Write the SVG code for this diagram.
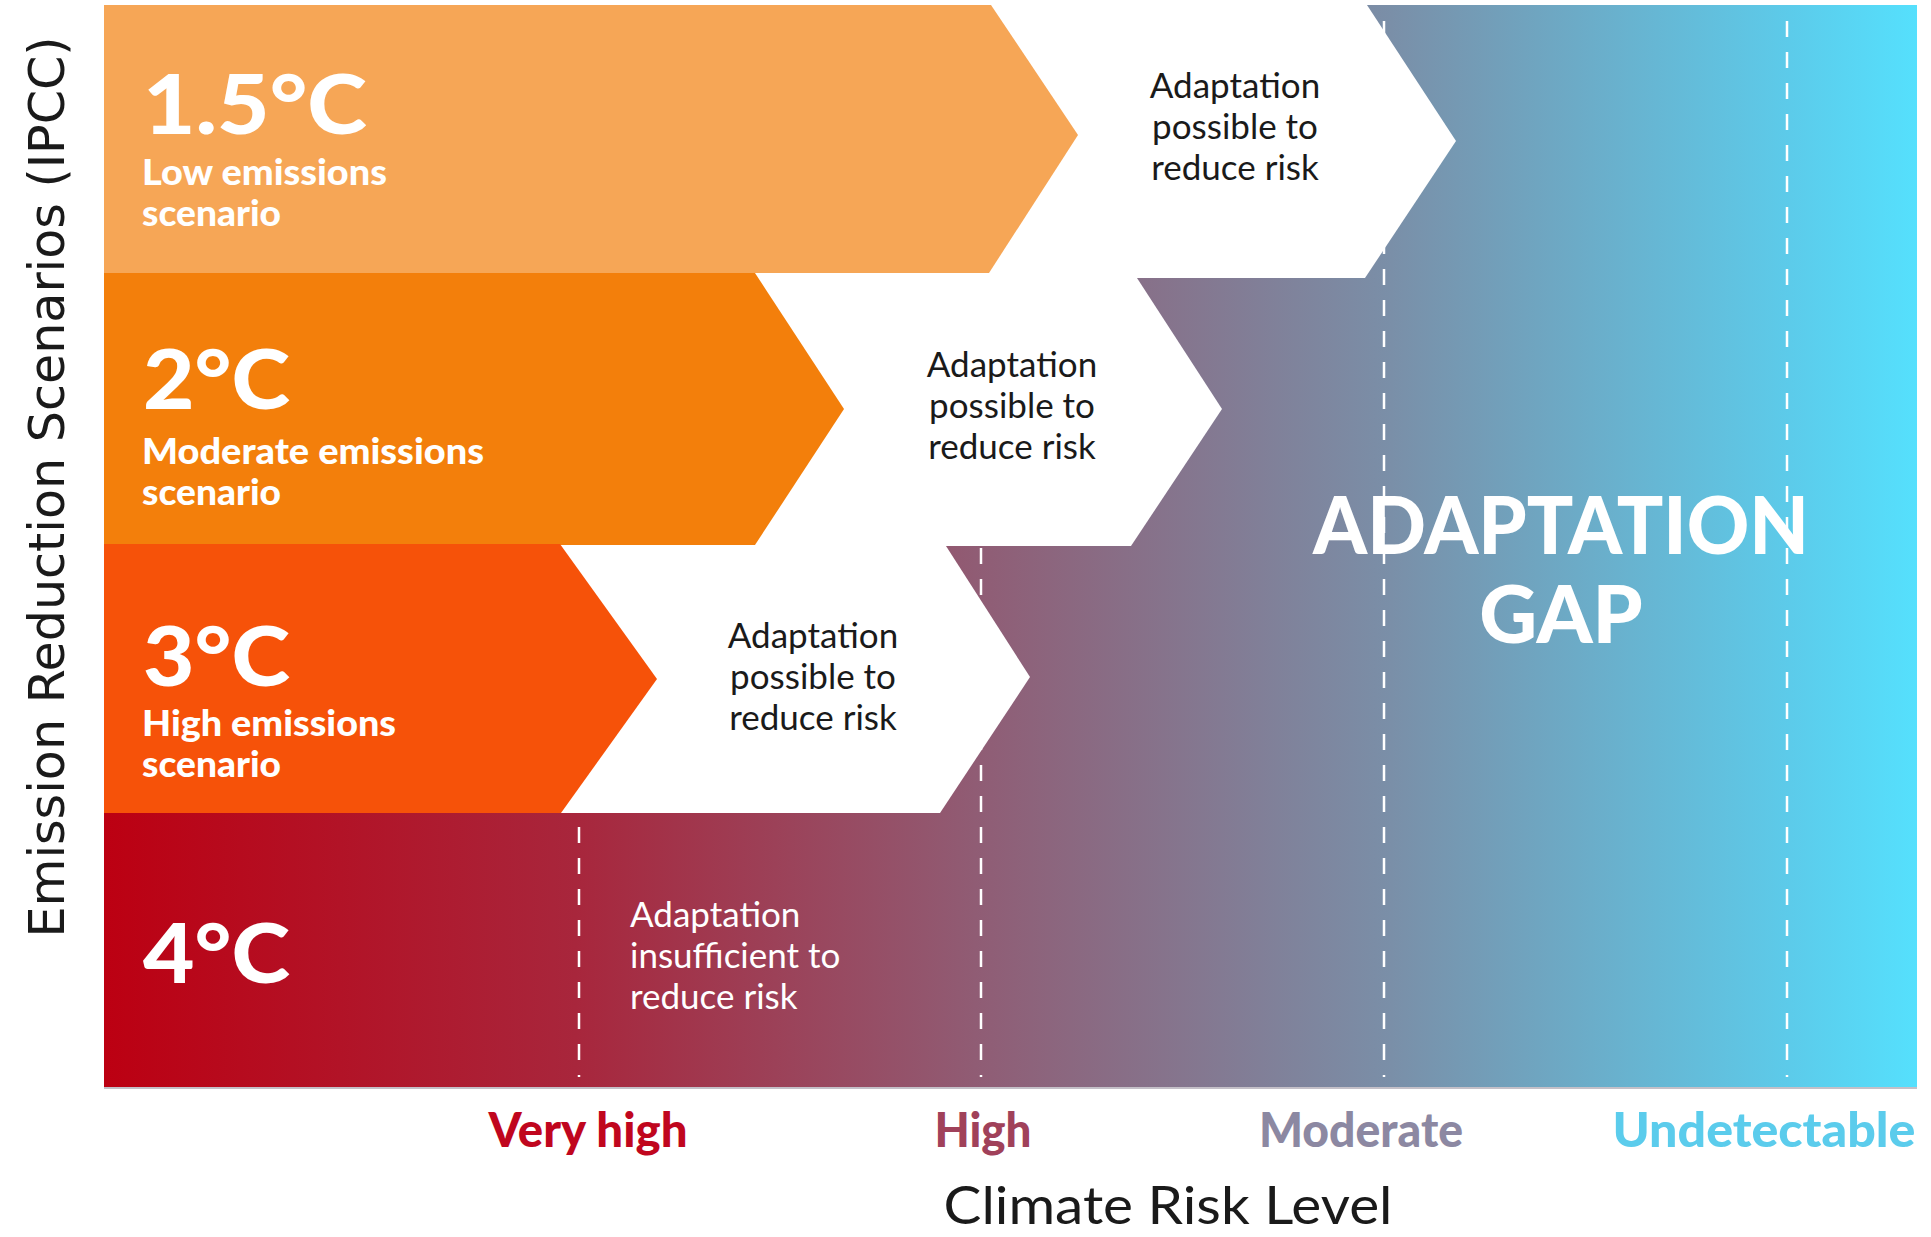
<svg xmlns="http://www.w3.org/2000/svg" width="1931" height="1237" viewBox="0 0 1931 1237">
<defs>
<linearGradient id="risk" x1="104" y1="0" x2="1917" y2="0" gradientUnits="userSpaceOnUse">
<stop offset="0" stop-color="#BC0012"/>
<stop offset="0.26" stop-color="#A8263C"/>
<stop offset="0.48" stop-color="#905C74"/>
<stop offset="0.71" stop-color="#7A8FA8"/>
<stop offset="0.93" stop-color="#5CCBEA"/>
<stop offset="1" stop-color="#55E0FD"/>
</linearGradient>
<style>
.grid{stroke:#fff;stroke-width:2.5;stroke-dasharray:16 15;fill:none}
.white{fill:#fff}
.big{font-family:Lato,"Liberation Sans",sans-serif;font-weight:900;font-size:82px;fill:#fff}
.sub{font-family:Lato,"Liberation Sans",sans-serif;font-weight:900;font-size:36px;fill:#fff}
.note{font-family:Lato,"Liberation Sans",sans-serif;font-size:35px;fill:#1a1a1a;text-anchor:middle}
.note2{font-family:Lato,"Liberation Sans",sans-serif;font-size:35px;fill:#fff}
.lvl{font-family:Lato,"Liberation Sans",sans-serif;font-weight:900;font-size:47px;text-anchor:middle}
.gap{font-family:Lato,"Liberation Sans",sans-serif;font-weight:900;font-size:80px;fill:#fff;text-anchor:middle}
.axis{font-family:"DejaVu Sans","Liberation Sans",sans-serif;font-size:50px;fill:#1a1a1a;text-anchor:middle}
.axis2{font-family:Lato,"Liberation Sans",sans-serif;font-size:52px;fill:#1a1a1a;text-anchor:middle}
</style>
</defs>
<rect x="0" y="0" width="1931" height="1237" fill="#fff"/>
<g id="background">
<rect x="104" y="5" width="1813" height="1082" fill="url(#risk)"/>
<line x1="104" y1="1088" x2="1917" y2="1088" stroke="#C4C0C8" stroke-width="2"/>
</g>
<g id="gridlines">
<line class="grid" x1="579" y1="21" x2="579" y2="1077"/>
<line class="grid" x1="981" y1="21" x2="981" y2="1077"/>
<line class="grid" x1="1384" y1="21" x2="1384" y2="1077"/>
<line class="grid" x1="1787" y1="21" x2="1787" y2="1077"/>
</g>
<g id="adapt-1">
<polygon class="white" points="104,5 1367,5 1456,141 1365,278 104,278"/>
<text class="note" x="1235" y="98">Adaptation</text>
<text class="note" x="1235" y="139">possible to</text>
<text class="note" x="1235" y="180">reduce risk</text>
</g>
<g id="adapt-2">
<polygon class="white" points="104,278 1137,278 1222,409 1131,546 104,546"/>
<text class="note" x="1012" y="377">Adaptation</text>
<text class="note" x="1012" y="418">possible to</text>
<text class="note" x="1012" y="459">reduce risk</text>
</g>
<g id="adapt-3">
<polygon class="white" points="104,546 946,546 1030,677 940,813 104,813"/>
<text class="note" x="813" y="648">Adaptation</text>
<text class="note" x="813" y="689">possible to</text>
<text class="note" x="813" y="730">reduce risk</text>
</g>
<g id="scenario-1-5">
<polygon fill="#F6A656" points="104,5 991,5 1078,135 989,273 104,273"/>
<text class="big" x="143" y="134" textLength="224" lengthAdjust="spacingAndGlyphs">1.5°C</text>
<text class="sub" x="142" y="185" textLength="245" lengthAdjust="spacingAndGlyphs">Low emissions</text>
<text class="sub" x="142" y="226" textLength="139" lengthAdjust="spacingAndGlyphs">scenario</text>
</g>
<g id="scenario-2">
<polygon fill="#F37F0B" points="104,273 755,273 844,409 755,545 104,545"/>
<text class="big" x="143" y="409" textLength="147" lengthAdjust="spacingAndGlyphs">2°C</text>
<text class="sub" x="142" y="464" textLength="342" lengthAdjust="spacingAndGlyphs">Moderate emissions</text>
<text class="sub" x="142" y="505" textLength="139" lengthAdjust="spacingAndGlyphs">scenario</text>
</g>
<g id="scenario-3">
<polygon fill="#F65209" points="104,544 560,544 657,679 561,813 104,813"/>
<text class="big" x="143" y="686" textLength="147" lengthAdjust="spacingAndGlyphs">3°C</text>
<text class="sub" x="142" y="736" textLength="254" lengthAdjust="spacingAndGlyphs">High emissions</text>
<text class="sub" x="142" y="777" textLength="139" lengthAdjust="spacingAndGlyphs">scenario</text>
</g>
<g id="scenario-4">
<text class="big" x="143" y="983" textLength="147" lengthAdjust="spacingAndGlyphs">4°C</text>
<text class="note2" x="630" y="927">Adaptation</text>
<text class="note2" x="630" y="968">insufficient to</text>
<text class="note2" x="630" y="1009">reduce risk</text>
</g>
<g id="adaptation-gap">
<text class="gap" x="1561" y="554" textLength="496" lengthAdjust="spacingAndGlyphs">ADAPTATION</text>
<text class="gap" x="1561" y="643">GAP</text>
</g>
<g id="risk-levels">
<text class="lvl" x="588" y="1147" fill="#C0061E" textLength="199" lengthAdjust="spacingAndGlyphs">Very high</text>
<text class="lvl" x="983" y="1147" fill="#A0415A" textLength="97" lengthAdjust="spacingAndGlyphs">High</text>
<text class="lvl" x="1361" y="1147" fill="#8C88A2" textLength="204" lengthAdjust="spacingAndGlyphs">Moderate</text>
<text class="lvl" x="1764" y="1147" fill="#5BCCEC" textLength="303" lengthAdjust="spacingAndGlyphs">Undetectable</text>
</g>
<g id="axis-titles">
<text class="axis2" x="1168" y="1224" textLength="449" lengthAdjust="spacingAndGlyphs">Climate Risk Level</text>
<text class="axis" transform="translate(64,487) rotate(-90)" textLength="901" lengthAdjust="spacingAndGlyphs">Emission Reduction Scenarios (IPCC)</text>
</g>
</svg>
